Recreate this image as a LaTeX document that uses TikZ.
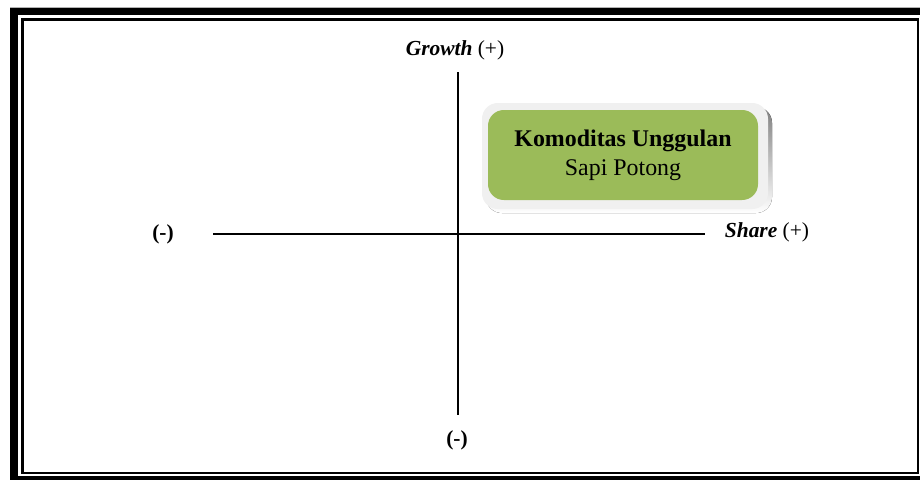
\documentclass[tikz,border=0pt]{standalone}
\usepackage{fontspec}
\setmainfont{Liberation Serif}
\usetikzlibrary{positioning}
\definecolor{olive}{RGB}{155,187,89}
\definecolor{pale}{RGB}{240,240,240}
\definecolor{shade}{RGB}{165,165,165}

\begin{document}
\begin{tikzpicture}[
	x=0.02cm, y=-0.02cm,
	axis/.style = {line width=0.9pt},
	lbl/.style = {font=\fontsize{12.2}{14}\selectfont, inner sep=0pt},
	box/.style = {rounded corners=9pt}
	]

	\useasboundingbox (0,0) rectangle (920,480);
	\clip (0,0) rectangle (920,480);

	% frame
	\draw[line width=4.2pt] (14,11.5) rectangle (925,480);
	\draw[gray!60,line width=0.8pt] (10,7.3) -- (925,7.3);
	\draw[line width=1.6pt] (22.5,19.5) rectangle (918,473);

	\coordinate (@top) at (458,72);
	\coordinate (@bottom) at (458,415);
	\coordinate (@left) at (213,234);
	\coordinate (@right) at (705,234);

	\draw[axis] (@left) -- (@right);
	\draw[axis] (@top) -- (@bottom);

	\node[lbl] (growth) at (455,50) {\textbf{\textit{Growth}} (+)};
	\node[lbl] (share) at (767,232) {\textbf{\textit{Share}} (+)};
	\node[lbl] (minx) at (163,234) {\textbf{(-)}};
	\node[lbl] (miny) at (457,440) {\textbf{(-)}};

	% box
	\fill[shade,box] (486,107) rectangle (772,213);
	\fill[pale,box] (482,103) rectangle (768,209);
	\fill[olive,box] (488,110) rectangle (758,200);
	\node[align=center, font=\fontsize{13.6}{16.5}\selectfont] (komoditas) at (623,155)
		{\textbf{Komoditas Unggulan}\\Sapi Potong};

\end{tikzpicture}
\end{document}
